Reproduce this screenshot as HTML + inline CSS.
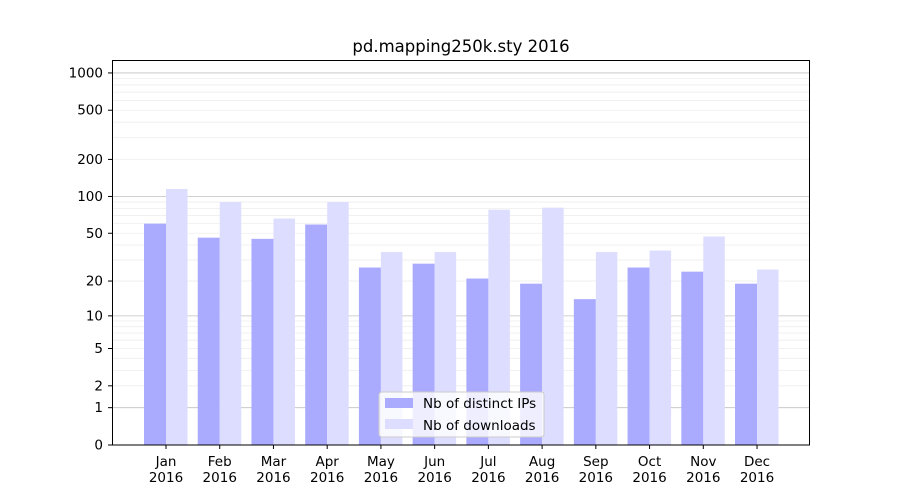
<!DOCTYPE html>
<html><head><meta charset="utf-8"><style>
body{margin:0;background:#fff}
svg{display:block;font-family:"DejaVu Sans","Liberation Sans",sans-serif}
</style></head><body>
<svg id="s" width="900" height="500" xmlns="http://www.w3.org/2000/svg">
<rect width="900" height="500" fill="#fff"/>
<g id="grid"></g>
<g id="bars"></g>
<rect x="112.5" y="60.5" width="697" height="384.5" fill="none" stroke="#000" stroke-width="1"/>
<g id="ticks" font-size="13.5" fill="#000"></g>
<text x="461" y="52" font-size="16.5" text-anchor="middle">pd.mapping250k.sty 2016</text>
<g>
<rect x="379" y="392" width="165" height="45" fill="#fff" fill-opacity="0.8" stroke="#ccc" rx="3"/>
<rect x="385" y="398" width="28" height="10" fill="#aaaaff"/>
<rect x="385" y="419" width="28" height="10" fill="#ddddff"/>
<text x="423" y="408" font-size="13.5">Nb of distinct IPs</text>
<text x="423" y="430" font-size="13.5">Nb of downloads</text>
</g>
</svg>
<script>
const NS="http://www.w3.org/2000/svg";
function el(p,t,a,txt){const e=document.createElementNS(NS,t);for(const k in a)e.setAttribute(k,a[k]);if(txt!==undefined)e.textContent=txt;document.getElementById(p).appendChild(e);return e;}
const Y=v=>445-124*Math.log10(v+1);
for(const d of [1,10,100])for(let m=2;m<10;m++){const y=Y(m*d);el("grid","line",{x1:112,x2:810,y1:y,y2:y,stroke:"#eeeeee","stroke-width":0.8});}
for(const v of [1,10,100,1000]){const y=Y(v);el("grid","line",{x1:112,x2:810,y1:y,y2:y,stroke:"#c0c0c0","stroke-width":0.8});}
for(const v of [0,1,2,5,10,20,50,100,200,500,1000]){const y=Y(v);el("ticks","line",{x1:108,x2:112,y1:y,y2:y,stroke:"#000"});el("ticks","text",{x:103,y:y+4.5,"text-anchor":"end"},v);}
const ips=[60,46,45,59,26,28,21,19,14,26,24,19];
const dl=[115,90,66,90,35,35,78,81,35,36,47,25];
const mon=["Jan","Feb","Mar","Apr","May","Jun","Jul","Aug","Sep","Oct","Nov","Dec"];
for(let i=0;i<12;i++){const c=166+i*53.73;
el("bars","rect",{x:c-22,y:Y(ips[i]),width:22,height:445-Y(ips[i]),fill:"#aaaaff"});
el("bars","rect",{x:c,y:Y(dl[i]),width:21.5,height:445-Y(dl[i]),fill:"#ddddff"});
el("ticks","line",{x1:c,x2:c,y1:445,y2:449,stroke:"#000"});
el("ticks","text",{x:c,y:466,"text-anchor":"middle"},mon[i]);
el("ticks","text",{x:c,y:482,"text-anchor":"middle"},"2016");}
</script>
</body></html>
